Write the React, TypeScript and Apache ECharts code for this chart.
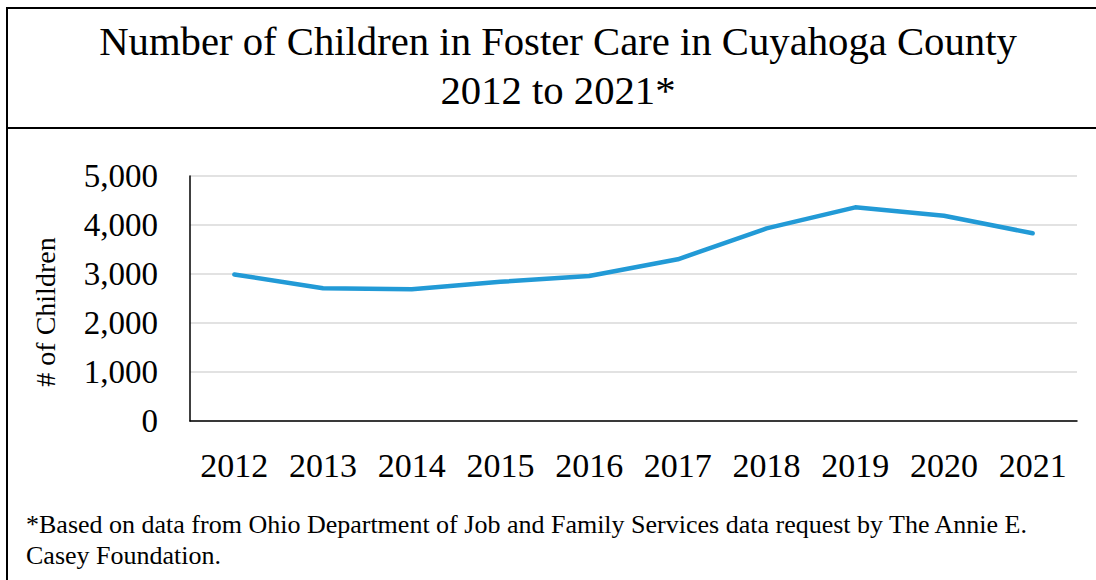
import React, { useEffect, useRef } from "react";
import * as echarts from "echarts";

const years = ["2012", "2013", "2014", "2015", "2016", "2017", "2018", "2019", "2020", "2021"];
const children = [2990, 2710, 2690, 2840, 2960, 3300, 3930, 4360, 4190, 3830];
const titleLines = ["Number of Children in Foster Care in Cuyahoga County", "2012 to 2021*"];
const yAxisTitle = "# of Children";
const footnoteLines = [
  "*Based on data from Ohio Department of Job and Family Services data request by The Annie E.",
  "Casey Foundation.",
];

const FONT = "'Liberation Serif', 'Times New Roman', serif";

export default function App() {
  const ref = useRef<HTMLDivElement>(null);
  useEffect(() => {
    document.body.style.margin = "0";
    const chart = echarts.init(ref.current!, null, { renderer: "svg" });
    chart.setOption({
      animation: false,
      backgroundColor: "#fff",
      grid: { left: 190, top: 176, right: 19, bottom: 159 },
      xAxis: {
        type: "category",
        data: years,
        boundaryGap: true,
        axisLine: { lineStyle: { color: "#000", width: 1.5 } },
        axisTick: { show: false },
        axisLabel: {
          color: "#000",
          fontFamily: FONT,
          fontSize: 34,
          lineHeight: 34,
          margin: 27,
        },
      },
      yAxis: {
        type: "value",
        min: 0,
        max: 5000,
        interval: 1000,
        axisLine: { show: true, lineStyle: { color: "#000", width: 1.5 } },
        axisTick: { show: false },
        splitLine: { lineStyle: { color: "#d9d9d9", width: 1.5 } },
        axisLabel: {
          color: "#000",
          fontFamily: FONT,
          fontSize: 33,
          margin: 32,
          formatter: (v: number) => v.toLocaleString("en-US"),
        },
      },
      series: [
        {
          type: "line",
          data: children,
          symbol: "none",
          lineStyle: { color: "#229ad6", width: 4.5, cap: "round", join: "round" },
        },
      ],
      graphic: [
        {
          type: "rect",
          shape: { x: 7, y: 8, width: 1200, height: 700 },
          style: { fill: "none", stroke: "#000", lineWidth: 2 },
          silent: true,
        },
        {
          type: "line",
          shape: { x1: 7, y1: 128, x2: 1096, y2: 128 },
          style: { stroke: "#000", lineWidth: 2 },
          silent: true,
        },
        {
          type: "text",
          x: 558,
          y: 41.3,
          style: {
            text: titleLines[0],
            font: `40.7px ${FONT}`,
            fill: "#000",
            align: "center",
            verticalAlign: "middle",
          },
        },
        {
          type: "text",
          x: 558,
          y: 90.6,
          style: {
            text: titleLines[1],
            font: `40.7px ${FONT}`,
            fill: "#000",
            align: "center",
            verticalAlign: "middle",
          },
        },
        {
          type: "text",
          x: 45,
          y: 312,
          rotation: Math.PI / 2,
          style: {
            text: yAxisTitle,
            font: `28px ${FONT}`,
            fill: "#000",
            align: "center",
            verticalAlign: "middle",
          },
        },
        {
          type: "text",
          x: 26,
          y: 524,
          style: {
            text: footnoteLines[0],
            font: `26px ${FONT}`,
            fill: "#000",
            align: "left",
            verticalAlign: "middle",
          },
        },
        {
          type: "text",
          x: 26,
          y: 555.3,
          style: {
            text: footnoteLines[1],
            font: `26px ${FONT}`,
            fill: "#000",
            align: "left",
            verticalAlign: "middle",
          },
        },
      ],
    });
    return () => chart.dispose();
  }, []);
  return <div ref={ref} style={{ width: 1096, height: 580 }} />;
}
